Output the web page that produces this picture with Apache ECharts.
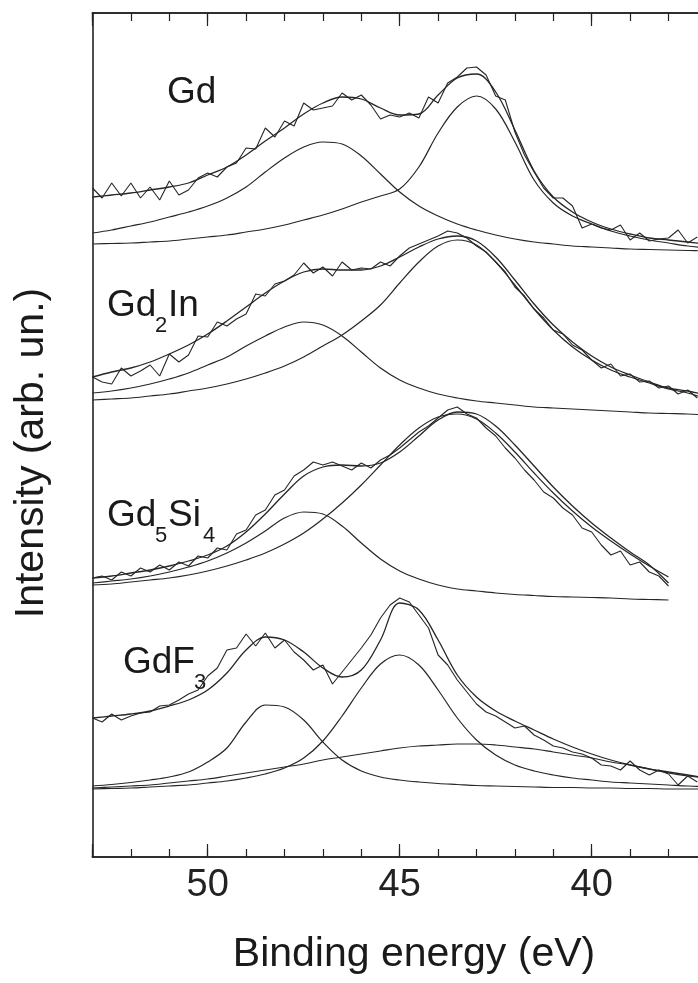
<!DOCTYPE html>
<html><head><meta charset="utf-8">
<script src="https://cdn.jsdelivr.net/npm/echarts@6/dist/echarts.min.js"></script>
<style>html,body{margin:0;padding:0;background:#fff}#c{width:698px;height:983px}</style>
</head><body><div id="c"></div>
<script>
// Energy grids (eV)
const energyFine = [53,52.75,52.5,52.25,52,51.75,51.5,51.25,51,50.75,50.5,50.25,50,49.75,49.5,49.25,49,48.75,48.5,48.25,48,47.75,47.5,47.25,47,46.75,46.5,46.25,46,45.75,45.5,45.25,45,44.75,44.5,44.25,44,43.75,43.5,43.25,43,42.75,42.5,42.25,42,41.75,41.5,41.25,41,40.75,40.5,40.25,40,39.75,39.5,39.25,39,38.75,38.5,38.25,38,37.75,37.5,37.25];
const energyFit = [53,52.5,52,51.5,51,50.5,50,49.5,49,48.5,48,47.5,47,46.5,46,45.5,45,44.5,44,43.5,43,42.5,42,41.5,41,40.5,40,39.5,39,38.5,38,37.5,37];

// Gd
const gdData = [669,659,674,661,674,659,670,657,676,662,667,679,684,680,690,694,709,708,729,720,736,731,754,747,749,751,764,757,762,752,738,742,740,744,739,760,754,774,780,789,790,782,761,757,725,702,685,669,659,659,651,629,633,629,627,632,617,624,616,618,619,627,614,620];
const gdFit = [660,662,664,667,670,674,682,690,702,716,729,743,754,760,758,749,742,743,762,779,783,765,727,686,660,645,635,628,623,619,617,615,613];
const gdPeak1 = [624,627,631,635,640,645,651,659,670,685,699,710,715,713,701,683,665,651,641,633,627,622,618,615,613,611,610,609,608,607.5,607,606.5,606];
const gdPeak2 = [613,613.5,614,615,616,618,620,622,625,628,632,637,642,648,655,661,668,690,724,750,761,748,715,677,654,641,633,626,621,617,614,611,609];

// Gd2In
const gd2InData = [480,475,473,489,481,486,492,481,503,495,502,521,520,535,531,538,543,563,561,573,576,582,594,584,590,581,595,587,589,588,595,591,601,609,613,617,621,626,624,619,611,605,595,585,570,561,548,539,527,523,512,507,497,489,493,481,483,475,476,469,471,463,467,459];
const gd2InFit = [480,485,489,495,503,512,523,536,550,564,576,585,588,587,587,591,600,610,618,621,616,600,577,553,532,515,501,490,482,475,469,466,462];
const gd2InPeak1 = [464,466,469,473,478,484,492,500,511,521,530,535,532,521,505,489,477,469,463,459,456,454,452,450,449,448,447,446,445,444,443.5,443,442];
const gd2InPeak2 = [457,458,459,461,463,466,469,473,478,484,491,500,511,522,536,552,574,595,611,617,612,595,572,548,527,510,497,487,480,474,468,464,458];

// Gd5Si4
const gd5Si4Data = [279,281,277,285,281,289,285,292,287,295,291,301,299,309,307,323,327,342,347,362,367,381,387,395,392,395,391,387,394,389,397,402,409,417,425,431,439,447,450,443,439,429,421,409,399,387,377,365,359,349,342,329,325,312,302,306,292,295,285,281,271];
const gd5Si4Fit = [279,281,284,287,291,296,302,311,325,343,363,381,390,392,391,394,405,421,437,445,443,431,412,391,370,351,334,319,305,292,274];
const gd5Si4Peak1 = [274,276,278,281,285,290,296,304,314,326,339,345,343,331,314,298,286,278,272,268,266,264,262.5,261.5,260.5,260,259.5,259,258,257.5,257];
const gd5Si4Peak2 = [272,273,275,277,279,282,286,291,297,304,313,324,338,354,372,392,412,429,440,443,438,424,405,384,364,346,330,316,303,291,280];

// GdF3
const gdF3Data = [139,135,143,137,141,144,145,151,152,157,163,167,181,189,207,209,223,211,224,209,217,205,197,187,192,173,185,197,209,222,239,252,259,255,242,229,202,192,177,165,153,145,141,135,129,131,122,117,111,109,105,103,99,92,91,87,96,87,82,87,83,72,81,75];
const gdF3Fit = [139,141,143,146,151,157,167,184,207,220,217,205,189,180,187,217,254,247,217,182,160,146,136,127,118,110,103,97,92,88,85,82,79];
const gdF3Peak1 = [71,72.5,74.5,77,80,85,95,109,135,152,150,137,115,97,86,80,77,75,73.5,72.5,71.5,71,70.5,70,69.5,69.5,69,69,68.5,68.5,68,68,68];
const gdF3Peak2 = [68,68.5,69,70,71,72,74,76,79,83,89,99,116,141,169,193,202,192,167,139,117,102,92,86,82,79,77,75,74,73,72,71,70.5];
const gdF3Peak3 = [69,70,71,72,74,76,78,81,84,87,90,93,97,100,103,106,109,111,112,113,113,112,110,108,105,102,99,95,92,88,84,81,79];

// Axis ticks
const majorTicks = [35,40,45,50];
const xMin = 35, xMax = 53;

function pairs(xs, ys){ return ys.map((v,i)=>[xs[i], v]); }

const lineCol = '#262626';
function mk(name, xs, ys, smooth, w){
  return {name, type:'line', data: pairs(xs, ys), showSymbol:false, symbol:'none',
    smooth: smooth ? 0.35 : false, lineStyle:{color:lineCol, width:w}, silent:true, z:3};
}

const series = [
  mk('Gd data', energyFine, gdData, false, 1.1),
  mk('Gd fit', energyFit, gdFit, true, 1.3),
  mk('Gd p1', energyFit, gdPeak1, true, 1.2),
  mk('Gd p2', energyFit, gdPeak2, true, 1.2),
  mk('Gd2In data', energyFine, gd2InData, false, 1.1),
  mk('Gd2In fit', energyFit, gd2InFit, true, 1.3),
  mk('Gd2In p1', energyFit, gd2InPeak1, true, 1.2),
  mk('Gd2In p2', energyFit, gd2InPeak2, true, 1.2),
  mk('Gd5Si4 data', energyFine.slice(0, gd5Si4Data.length), gd5Si4Data, false, 1.1),
  mk('Gd5Si4 fit', energyFit.slice(0, gd5Si4Fit.length), gd5Si4Fit, true, 1.3),
  mk('Gd5Si4 p1', energyFit.slice(0, gd5Si4Peak1.length), gd5Si4Peak1, true, 1.2),
  mk('Gd5Si4 p2', energyFit.slice(0, gd5Si4Peak2.length), gd5Si4Peak2, true, 1.2),
  mk('GdF3 data', energyFine, gdF3Data, false, 1.1),
  mk('GdF3 fit', energyFit, gdF3Fit, true, 1.3),
  mk('GdF3 p1', energyFit, gdF3Peak1, true, 1.2),
  mk('GdF3 p2', energyFit, gdF3Peak2, true, 1.2),
  mk('GdF3 p3', energyFit, gdF3Peak3, true, 1.2)
];

const axisCol = '#222';
function xa(pos, interval, len, labels){
  return {type:'value', position:pos, min:xMin, max:xMax, interval, inverse:true,
    axisLine:{show:true, onZero:false, lineStyle:{color:axisCol, width:1.6}},
    axisTick:{show:true, inside:true, length:len, lineStyle:{color:axisCol, width:1.2}},
    axisLabel:{show:labels, margin:10, color:'#222', fontSize:38, fontFamily:'Liberation Sans, Arial, sans-serif',
      formatter: v => majorTicks.includes(v) ? String(v) : ''},
    splitLine:{show:false}};
}

const font = 'Liberation Sans, Arial, sans-serif';
function txt(x, y, s, size){
  return {type:'text', x, y, style:{text:s, fontSize:size, fontFamily:font, fill:'#1a1a1a', textVerticalAlign:'middle', textAlign:'left'}, z:10};
}

const chart = echarts.init(document.getElementById('c'), null, {renderer:'canvas'});
chart.setOption({
  animation:false,
  backgroundColor:'#fff',
  grid:{left:92.5, top:13, width:691.2, height:844, containLabel:false, outerBoundsMode:'none'},
  xAxis:[xa('bottom',1,8,false), xa('bottom',5,13,true), xa('top',1,8,false), xa('top',5,13,false)],
  yAxis:{type:'value', min:0, max:844, axisLine:{show:true, lineStyle:{color:axisCol, width:1.6}},
    axisTick:{show:false}, axisLabel:{show:false}, splitLine:{show:false}},
  series,
  graphic:[
    txt(167, 93, 'Gd', 37),
    txt(107, 306, 'Gd', 37), txt(155, 326, '2', 22), txt(168, 306, 'In', 37),
    txt(107, 516, 'Gd', 37), txt(155, 536, '5', 22), txt(168, 516, 'Si', 37), txt(203, 536, '4', 22),
    txt(123, 663, 'GdF', 37), txt(194, 683, '3', 22),
    {type:'text', x:414, y:955, style:{text:'Binding energy (eV)', fontSize:41, fontFamily:font, fill:'#1a1a1a', textAlign:'center', textVerticalAlign:'middle'}},
    {type:'text', x:32, y:453, rotation:Math.PI/2, style:{text:'Intensity (arb. un.)', fontSize:41, fontFamily:font, fill:'#1a1a1a', textAlign:'center', textVerticalAlign:'middle'}}
  ]
});
</script>
</body></html>
